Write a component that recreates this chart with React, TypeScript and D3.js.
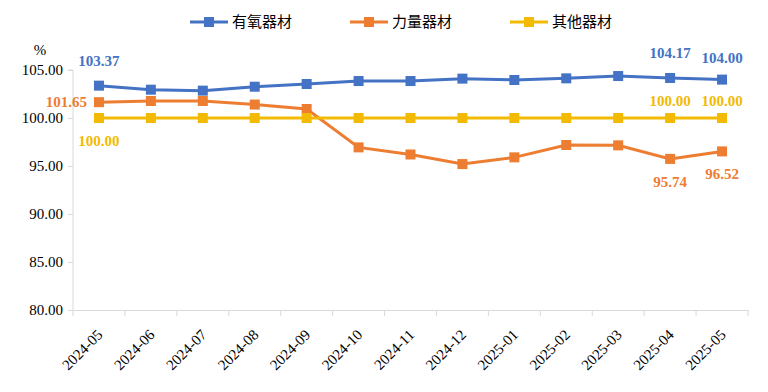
import { useEffect, useRef } from 'react'
import * as d3 from 'd3'

// Months on the x axis
const MONTHS = [
  '2024-05', '2024-06', '2024-07', '2024-08', '2024-09', '2024-10', '2024-11',
  '2024-12', '2025-01', '2025-02', '2025-03', '2025-04', '2025-05',
]

// Series values (%)
const AEROBIC = [103.37, 102.95, 102.85, 103.26, 103.54, 103.85, 103.85, 104.1, 103.96, 104.13, 104.37, 104.17, 104.0]
const STRENGTH = [101.65, 101.77, 101.77, 101.4, 100.94, 96.94, 96.2, 95.2, 95.9, 97.19, 97.15, 95.74, 96.52]
const OTHER = [100, 100, 100, 100, 100, 100, 100, 100, 100, 100, 100, 100, 100]

const Y_TICKS = [80, 85, 90, 95, 100, 105]

const SERIES = [
  { name: '有氧器材', values: AEROBIC, color: '#4472C4' },
  { name: '力量器材', values: STRENGTH, color: '#ED7D31' },
  { name: '其他器材', values: OTHER, color: '#F2BA02' },
]

// Which points get a value label, and where: [seriesIndex, pointIndex, dx, dy, anchor]
const LABELS: [number, number, number, number, string][] = [
  [0, 0, 0, -20, 'middle'],
  [0, 11, 0, -20, 'middle'],
  [0, 12, 0, -17, 'middle'],
  [1, 0, -12, 5, 'end'],
  [1, 11, 0, 28, 'middle'],
  [1, 12, 0, 28, 'middle'],
  [2, 0, 0, 28, 'middle'],
  [2, 11, 0, -12, 'middle'],
  [2, 12, 0, -12, 'middle'],
]

const SERIF = 'Liberation Serif, DejaVu Serif, serif'

const App = () => {
  const svgRef = useRef<SVGSVGElement>(null)

  useEffect(() => {
    if (!svgRef.current) return
    const svg = d3.select(svgRef.current)
    svg.selectAll('*').remove()

    const left = 73
    const right = 748
    const top = 70
    const bottom = 310

    const x = d3.scaleBand<string>().domain(MONTHS).range([left, right])
    const y = d3.scaleLinear().domain([80, 105]).range([bottom, top])
    const cx = (m: string) => (x(m) || 0) + x.bandwidth() / 2

    // y axis
    const yAxis = svg.append('g')
      .attr('transform', `translate(${left},0)`)
      .call(d3.axisLeft(y).tickValues(Y_TICKS).tickFormat(d3.format('.2f')).tickSize(5).tickPadding(5))
    yAxis.attr('font-family', SERIF)
    yAxis.select('.domain').attr('stroke', '#d9d9d9').attr('d', `M-5,${top}H0V${bottom}`)
    yAxis.selectAll('.tick line').attr('stroke', '#d9d9d9')
    yAxis.selectAll('text')
      .style('font-family', SERIF)
      .attr('font-size', 15)
      .attr('fill', '#000')

    // x axis
    const xAxis = svg.append('g')
      .attr('transform', `translate(0,${bottom})`)
      .call(d3.axisBottom(x).tickSize(0).tickPadding(0))
    xAxis.attr('font-family', SERIF)
    xAxis.select('.domain').attr('stroke', '#d9d9d9')
    xAxis.selectAll('.tick line').remove()
    xAxis.selectAll('.tick text')
      .style('font-family', SERIF)
      .attr('font-size', 15)
      .attr('fill', '#000')
      .attr('text-anchor', 'end')
      .attr('transform', 'translate(1,22) rotate(-45)')
      .attr('dy', '0.35em')
    // band boundary ticks
    const bounds = MONTHS.map(m => x(m) || 0).concat([right])
    svg.append('g').selectAll('line')
      .data(bounds)
      .enter()
      .append('line')
      .attr('x1', d => d).attr('x2', d => d)
      .attr('y1', bottom).attr('y2', bottom + 6)
      .attr('stroke', '#d9d9d9')

    // unit label
    svg.append('text')
      .attr('x', 40).attr('y', 55)
      .attr('text-anchor', 'middle')
      .style('font-family', SERIF)
      .attr('font-size', 15)
      .text('%')

    // lines + markers
    const line = d3.line<number>()
      .x((d, i) => cx(MONTHS[i]))
      .y(d => y(d))

    SERIES.forEach(s => {
      svg.append('path')
        .attr('d', line(s.values) || '')
        .attr('fill', 'none')
        .attr('stroke', s.color)
        .attr('stroke-width', 3)
      svg.append('g').selectAll('rect')
        .data(s.values)
        .enter()
        .append('rect')
        .attr('x', (d, i) => cx(MONTHS[i]) - 5)
        .attr('y', d => y(d) - 5)
        .attr('width', 10)
        .attr('height', 10)
        .attr('fill', s.color)
    })

    // value labels
    LABELS.forEach(([si, pi, dx, dy, anchor]) => {
      const s = SERIES[si]
      svg.append('text')
        .attr('x', cx(MONTHS[pi]) + dx)
        .attr('y', y(s.values[pi]) + dy)
        .attr('text-anchor', anchor)
        .style('font-family', SERIF)
        .attr('font-weight', 'bold')
        .attr('font-size', 15)
        .attr('fill', s.color)
        .text(s.values[pi].toFixed(2))
    })

    // legend
    const legendX = [190, 350, 510]
    SERIES.forEach((s, i) => {
      const g = svg.append('g').attr('transform', `translate(${legendX[i]},22)`)
      g.append('line')
        .attr('x1', 0).attr('x2', 38)
        .attr('stroke', s.color).attr('stroke-width', 3)
      g.append('rect')
        .attr('x', 14).attr('y', -5).attr('width', 10).attr('height', 10)
        .attr('fill', s.color)
      g.append('text')
        .attr('x', 42).attr('y', 0).attr('dy', '0.35em')
        .style('font-family', 'Noto Sans CJK SC, sans-serif')
        .attr('font-size', 15)
        .attr('fill', '#000')
        .text(s.name)
    })
  }, [])

  return (
    <svg ref={svgRef} width={768} height={392}
      style={{ position: 'absolute', left: 0, top: 0, background: '#fff' }} />
  )
}

export default App
